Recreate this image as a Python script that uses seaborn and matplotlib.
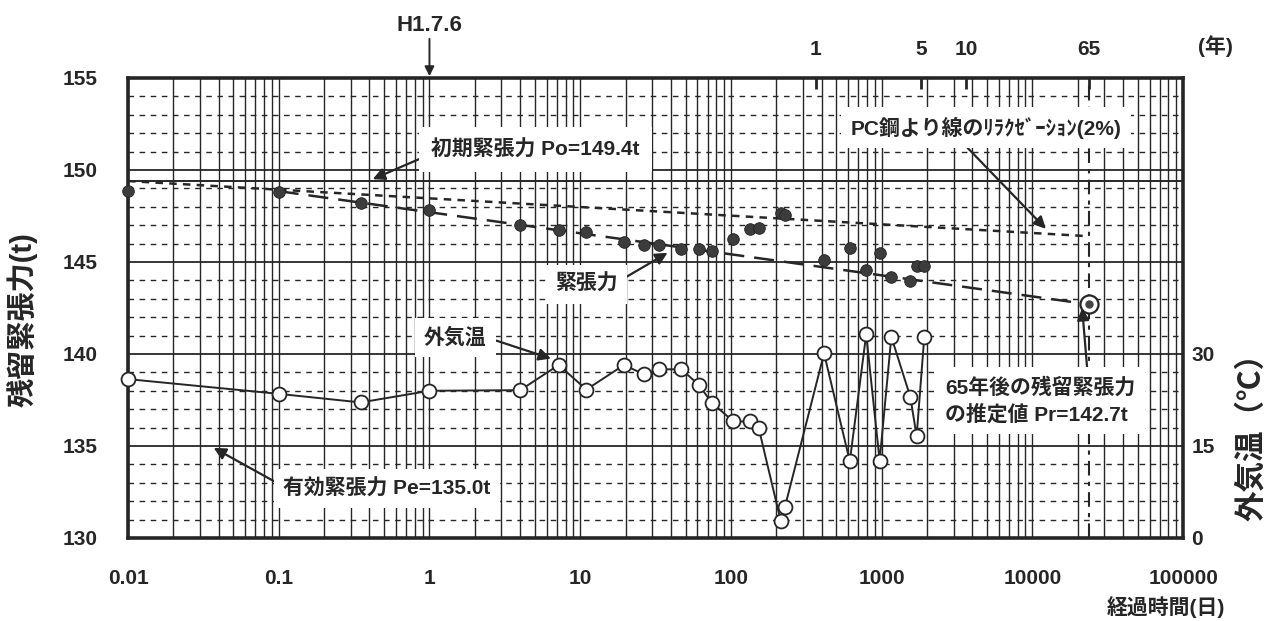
import matplotlib
matplotlib.use("Agg")
import matplotlib.pyplot as plt
from matplotlib.ticker import MultipleLocator, LogLocator, NullFormatter, FixedLocator
import seaborn as sns

# measured values (elapsed days, tension in t, outdoor temperature in deg C)
days = [0.01, 0.1, 0.35, 1, 4, 7.2, 11, 19.5, 26.5, 33.5, 47, 61, 75, 104, 133,
        153, 214, 228, 415, 615, 790, 970, 1160, 1550, 1707, 1919]
tension = [148.85, 148.8, 148.22, 147.84, 146.99, 146.72, 146.63, 146.09, 145.94,
           145.94, 145.72, 145.72, 145.58, 146.23, 146.78, 146.85, 147.68, 147.54,
           145.13, 145.76, 144.55, 145.48, 144.19, 143.95, 144.78, 144.78]
temperature = [25.9, 23.5, 22.1, 24.0, 24.1, 28.2, 24.2, 28.2, 26.7, 27.5, 27.5,
               25.0, 22.0, 19.0, 19.0, 17.9, 2.8, 5.0, 30.1, 12.5, 33.2, 12.6,
               32.8, 23.0, 16.6, 32.8]

# trend lines
trend_days = [0.1, 23725]
trend_vals = [148.85, 142.7]
relax_days = [0.01, 23725]
relax_vals = [149.4, 146.4]
p_initial = 149.4
est_day = 23725
est_val = 142.7

x_ticks = [0.01, 0.1, 1, 10, 100, 1000, 10000, 100000]
x_labels = ["0.01", "0.1", "1", "10", "100", "1000", "10000", "100000"]
year_ticks = [365, 1825, 3650, 23725]
year_labels = ["1", "5", "10", "65"]

sns.set_theme(style="white")
plt.rcParams["font.family"] = ["Liberation Sans", "Noto Sans CJK JP", "DejaVu Sans"]
ink = "#262626"

fig = plt.figure(figsize=(12.75, 6.21), dpi=100)
ax = fig.add_axes([0.1004, 0.1337, 0.8275, 0.7407])
ax.set_xscale("log")
ax.set_xlim(0.01, 100000)
ax.set_ylim(130, 155)

# grid: every log line solid, every 5t solid, every 1t dashed
ax.xaxis.set_major_locator(FixedLocator(x_ticks))
ax.xaxis.set_minor_locator(LogLocator(base=10, subs=range(2, 10), numticks=50))
ax.xaxis.set_minor_formatter(NullFormatter())
ax.yaxis.set_major_locator(MultipleLocator(5))
ax.yaxis.set_minor_locator(MultipleLocator(1))
ax.grid(which="both", axis="x", color=ink, lw=1.0)
ax.grid(which="major", axis="y", color=ink, lw=1.3)
ax.grid(which="minor", axis="y", color=ink, lw=1.0, ls=(0, (4, 4)))
ax.set_xticklabels(x_labels)
ax.tick_params(axis="x", which="both", length=0, pad=22, labelsize=15)
ax.tick_params(axis="y", which="both", length=0, pad=22, labelsize=15)
for lab in ax.get_xticklabels() + ax.get_yticklabels():
    lab.set_fontweight("bold")
for sp in ax.spines.values():
    sp.set_linewidth(2.6)
    sp.set_color(ink)

ax.axhline(p_initial, color=ink, lw=1.4)
ax.axvline(est_day, color=ink, lw=1.5, ls=(0, (7, 3, 2, 3)))

sns.lineplot(x=relax_days, y=relax_vals, ax=ax, color=ink, lw=1.8,
             linestyle=(0, (3, 2.5)))
sns.lineplot(x=trend_days, y=trend_vals, ax=ax, color=ink, lw=1.8,
             linestyle=(0, (8, 4)))
sns.scatterplot(x=days, y=tension, ax=ax, color="#3c3c3c", s=70,
                edgecolor="#222222", linewidth=0.6, zorder=5, clip_on=False)
ax.plot([est_day], [est_val], "o", ms=13, mfc="white", mec=ink, mew=1.6, zorder=6)
ax.plot([est_day], [est_val], "o", ms=5, mfc="#444444", mec="#444444", zorder=7)

ax.set_ylabel("残留緊張力(t)", fontsize=21, fontweight="bold")
ax.yaxis.set_label_coords(-0.086, 0.474)
ax.set_xlabel("")

# temperature on the right axis
ax2 = ax.twinx()
ax2.set_ylim(0, 75)
ax2.set_yticks([0, 15, 30])
ax2.tick_params(axis="y", length=0, pad=6, labelsize=15)
for lab in ax2.get_yticklabels():
    lab.set_fontweight("bold")
ax2.grid(False)
for sp in ax2.spines.values():
    sp.set_visible(False)
sns.lineplot(x=days, y=temperature, ax=ax2, color=ink, lw=1.4, marker="o",
             markersize=10, markerfacecolor="white", markeredgecolor=ink,
             markeredgewidth=1.3, clip_on=False)
ax2.set_ylabel("外気温（℃）", fontsize=22, fontweight="bold")
ax2.yaxis.set_label_coords(1.051, 0.235)

# elapsed years on top
ax3 = ax.twiny()
ax3.set_xscale("log")
ax3.set_xlim(ax.get_xlim())
ax3.xaxis.set_major_locator(FixedLocator(year_ticks))
ax3.xaxis.set_minor_locator(FixedLocator([]))
ax3.set_xticklabels(year_labels)
ax3.tick_params(axis="x", direction="in", length=8, width=2, pad=14,
                labelsize=15, colors=ink)
for lab in ax3.get_xticklabels():
    lab.set_fontweight("bold")
for sp in ax3.spines.values():
    sp.set_visible(False)

fig.text(0.953, 0.925, "(年)", fontsize=15, fontweight="bold", ha="center",
         va="center", color=ink)
fig.text(0.961, 0.0225, "経過時間(日)", fontsize=15, fontweight="bold", ha="right",
         va="center", color=ink)

box = dict(boxstyle="square,pad=0.45", fc="white", ec="none")
arrow = dict(arrowstyle="-|>", color=ink, lw=1.6, mutation_scale=18,
             shrinkA=0, shrinkB=0)
tr = ax.transData

ax2.annotate("初期緊張力 Po=149.4t", xy=(0.42, 149.5), xycoords=tr,
             xytext=(1.03, 151.1), textcoords=tr, fontsize=15, fontweight="bold",
             ha="left", va="center",
             bbox=dict(boxstyle="square,pad=0.6", fc="white", ec="none"),
             arrowprops=dict(arrow, relpos=(0, 0.3)))
ax2.annotate("PC鋼より線のﾘﾗｸｾﾞｰｼｮﾝ(2%)", xy=(12300, 146.8), xycoords=tr,
             xytext=(620, 152.3), textcoords=tr, fontsize=15, fontweight="bold",
             ha="left", va="center", bbox=box,
             arrowprops=dict(arrow, relpos=(0.4, 0)))
ax2.annotate("緊張力", xy=(38, 145.5), xycoords=tr, xytext=(6.8, 143.8),
             textcoords=tr, fontsize=15, fontweight="bold", ha="left",
             va="center", bbox=box, arrowprops=dict(arrow, relpos=(1, 0.6)))
ax2.annotate("外気温", xy=(6.4, 139.75), xycoords=tr, xytext=(0.92, 140.9),
             textcoords=tr, fontsize=15, fontweight="bold", ha="left",
             va="center", bbox=box, arrowprops=dict(arrow, relpos=(1, 0.5)))
ax2.annotate("有効緊張力 Pe=135.0t", xy=(0.037, 134.9), xycoords=tr,
             xytext=(0.107, 132.7), textcoords=tr, fontsize=15,
             fontweight="bold", ha="left", va="center", bbox=box,
             arrowprops=dict(arrow, relpos=(0, 0.6)))
ax2.annotate("65年後の残留緊張力\nの推定値 Pr=142.7t", xy=(21400, 142.5),
             xycoords=tr, xytext=(2640, 137.45), textcoords=tr, fontsize=15,
             fontweight="bold", ha="left", va="center", linespacing=1.45,
             bbox=box, arrowprops=dict(arrow, relpos=(0.75, 1)))
ax2.annotate("H1.7.6", xy=(1, 155.1), xycoords=tr, xytext=(1, 157.3),
             textcoords=tr, fontsize=16, fontweight="bold", ha="center",
             va="bottom", annotation_clip=False,
             arrowprops=dict(arrow, lw=1.4, mutation_scale=14))

fig.savefig("out.png", dpi=100, facecolor="white")
